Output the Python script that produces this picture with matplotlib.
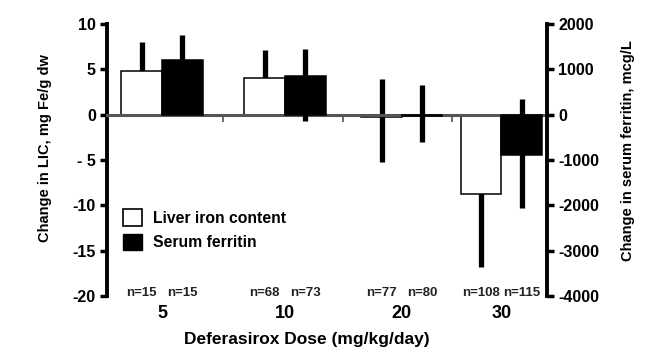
import numpy as np
import matplotlib.pyplot as plt
from matplotlib.patches import Patch

plt.rcParams['font.family'] = ['Liberation Sans', 'DejaVu Sans']
plt.rcParams['font.weight'] = 'bold'
plt.rcParams['axes.unicode_minus'] = False

# data
doses = ['5', '10', '20', '30']
lic = [4.8, 4.0, -0.3, -8.7]            # mg Fe/g dw
lic_err_lo = [3.2, 3.1, 4.9, 8.1]
lic_err_hi = [3.2, 3.1, 4.2, 8.1]
ferritin = [1200, 860, -20, -880]      # mcg/L
fer_err_lo = [560, 990, 580, 1180]
fer_err_hi = [560, 600, 680, 1230]
n_lic = ['n=15', 'n=68', 'n=77', 'n=108']
n_fer = ['n=15', 'n=73', 'n=80', 'n=115']
lic_ticks = [-20, -15, -10, -5, 0, 5, 10]
lic_ticklabels = ['-20', '-15', '-10', '- 5', '0', '5', '10']
fer_ticks = [-4000, -3000, -2000, -1000, 0, 1000, 2000]

# group positions (uneven in the original)
pos = np.array([0, 1, 1.95, 2.76])
mids = (pos[:-1] + pos[1:]) / 2
w = 0.33

fig = plt.figure(figsize=(6.62, 3.6), dpi=100)
ax = fig.add_axes([0.1616, 0.178, 0.6647, 0.755])
ax2 = ax.twinx()

ax.set_xlim(-0.447, 3.13)
ax.set_ylim(-20, 10)
ax2.set_ylim(-4000, 2000)

# error bars behind the bars
ax.errorbar(pos - w/2, lic, yerr=[lic_err_lo, lic_err_hi], fmt='none',
            ecolor='black', elinewidth=3.8, capsize=0, zorder=1)
ax.bar(pos - w/2, lic, width=w, color='white', edgecolor='black',
       linewidth=1.1, zorder=2)
ax2.errorbar(pos + w/2, ferritin, yerr=[fer_err_lo, fer_err_hi], fmt='none',
             ecolor='black', elinewidth=3.8, capsize=0, zorder=1)
ax2.bar(pos + w/2, ferritin, width=w, color='black', edgecolor='black',
        linewidth=1.1, zorder=2)

# zero line acting as x axis
ax.spines['bottom'].set_position(('data', 0))
ax.spines['bottom'].set_color('#555555')
ax.spines['bottom'].set_linewidth(2.2)
ax.spines['top'].set_visible(False)
ax.spines['right'].set_visible(False)
ax2.spines['top'].set_visible(False)
ax2.spines['bottom'].set_visible(False)
ax2.spines['left'].set_visible(False)
ax.spines['left'].set_linewidth(2.8)
ax2.spines['right'].set_linewidth(2.8)

ax.set_xticks(mids)
ax.set_xticklabels([])
ax.tick_params(axis='x', length=5, width=1.2, color='#555555')

ax.set_yticks(lic_ticks)
ax.set_yticklabels(lic_ticklabels)
ax.tick_params(axis='y', length=5, width=2.5, labelsize=11.5, pad=3)
ax2.set_yticks(fer_ticks)
ax2.tick_params(axis='y', length=5, width=2.5, labelsize=11.5, pad=3)

trans = ax.get_xaxis_transform()
for i in range(len(doses)):
    ax.text(pos[i] - w/2, 0.012, n_lic[i], transform=trans, ha='center',
            va='center', fontsize=9.5, color='#222222')
    ax.text(pos[i] + w/2, 0.012, n_fer[i], transform=trans, ha='center',
            va='center', fontsize=9.5, color='#222222')
    ax.text(pos[i], -0.063, doses[i], transform=trans, ha='center',
            va='center', fontsize=13)

ax.text(0.455, -0.162, 'Deferasirox Dose (mg/kg/day)', transform=ax.transAxes,
        ha='center', va='center', fontsize=12.5)

fig.text(0.068, 0.589, 'Change in LIC, mg Fe/g dw', rotation=90,
         ha='center', va='center', fontsize=10.5)
fig.text(0.948, 0.583, 'Change in serum ferritin, mcg/L', rotation=90,
         ha='center', va='center', fontsize=10.5)

handles = [Patch(facecolor='white', edgecolor='black', linewidth=1.2),
           Patch(facecolor='black', edgecolor='black')]
ax.legend(handles, ['Liver iron content', 'Serum ferritin'], loc='upper left',
          bbox_to_anchor=(0.004, 0.37), frameon=False, fontsize=11.3,
          handlelength=1.2, handleheight=1.2, handletextpad=0.7,
          labelspacing=0.5)

fig.savefig('out.png', dpi=100)
